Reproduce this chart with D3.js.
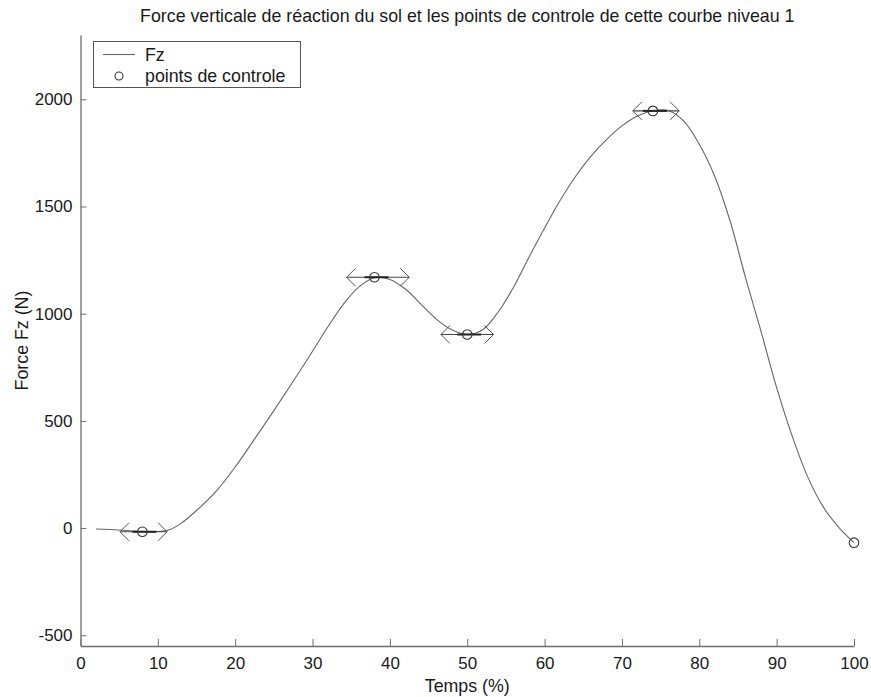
<!DOCTYPE html>
<html>
<head>
<meta charset="utf-8">
<script src="https://cdn.jsdelivr.net/npm/d3@7"></script>
<style>
  html, body { margin: 0; padding: 0; background: #fff; }
  text { font-family: "Liberation Sans", Arial, sans-serif; fill: #1a1a1a; }
</style>
</head>
<body>
<svg id="chart" width="871" height="697"></svg>
<script>
// ---- data ----
const titleText = "Force verticale de réaction du sol et les points de controle de cette courbe niveau 1";
const xLabel = "Temps (%)";
const yLabel = "Force Fz (N)";
const legendLabels = ["Fz", "points de controle"];

const curveX = [2, 5, 8, 10, 11.5, 13, 15, 17.5, 20, 22.5, 25, 27.5, 30, 32, 34, 36, 38, 40, 42, 44, 46, 48, 50, 52, 54, 56, 58, 60, 62, 64, 66, 68, 70, 72, 74, 76, 78, 80, 82, 84, 86, 88, 90, 92, 94, 96, 98, 100];
const curveY = [-4, -9, -16, -16, -8, 22, 82, 170, 285, 415, 548, 685, 825, 940, 1045, 1125, 1168, 1160, 1115, 1045, 975, 925, 903, 925, 1008, 1125, 1265, 1400, 1528, 1640, 1735, 1812, 1876, 1922, 1947, 1948, 1898, 1790, 1640, 1430, 1165, 915, 655, 430, 240, 100, 5, -68];

const ctrlX = [8, 38, 50, 74, 100];
const ctrlY = [-17, 1170, 903, 1946, -68];
// tangent handle lengths (x units) left / right of each control point
const handleLeft = [2.9, 3.6, 3.4, 2.6, 0];
const handleRight = [3.2, 4.5, 3.4, 3.4, 0];

const xTicks = [0, 10, 20, 30, 40, 50, 60, 70, 80, 90, 100];
const yTicks = [-500, 0, 500, 1000, 1500, 2000];

// ---- layout ----
const svg = d3.select("#chart");
const mL = 80.5, mR = 854, mT = 35, mB = 646;
const x = d3.scaleLinear().domain([0, 100]).range([mL, mR]);
const y = d3.scaleLinear().domain([-550, 2300]).range([mB, mT]);
const axisColor = "#6e6e6e";

// axes
const xAxis = svg.append("g").attr("transform", `translate(0,${mB})`)
  .call(d3.axisBottom(x).tickValues(xTicks).tickFormat(d => String(d))
    .tickSizeInner(-7).tickSizeOuter(0).tickPadding(11));
const yAxis = svg.append("g").attr("transform", `translate(${mL},0)`)
  .call(d3.axisLeft(y).tickValues(yTicks).tickFormat(d => String(d))
    .tickSizeInner(-6).tickSizeOuter(0).tickPadding(8));
[xAxis, yAxis].forEach(g => {
  g.select(".domain").attr("stroke", axisColor).attr("stroke-width", 1.3);
  g.selectAll(".tick line").attr("stroke", axisColor).attr("stroke-width", 1);
  g.selectAll(".tick text").attr("font-size", 17).attr("fill", "#1a1a1a")
    .attr("font-family", '"Liberation Sans", Arial, sans-serif');
});

// title & labels
svg.append("text").attr("x", (mL + mR) / 2).attr("y", 22)
  .attr("text-anchor", "middle").attr("font-size", 17.8).text(titleText);
svg.append("text").attr("x", (mL + mR) / 2).attr("y", 692)
  .attr("text-anchor", "middle").attr("font-size", 17.8).text(xLabel);
svg.append("text").attr("transform", `translate(28,${(mT + mB) / 2}) rotate(-90)`)
  .attr("text-anchor", "middle").attr("font-size", 17.8).text(yLabel);

// curve
const pts = curveX.map((d, i) => [d, curveY[i]]);
const line = d3.line().x(d => x(d[0])).y(d => y(d[1])).curve(d3.curveCatmullRom.alpha(0.5));
svg.append("path").datum(pts).attr("d", line)
  .attr("fill", "none").attr("stroke", "#666").attr("stroke-width", 1.1);

// tangent arrows
const ctrl = ctrlX.map((d, i) => ({ x: d, y: ctrlY[i], l: handleLeft[i], r: handleRight[i] }));
const arrowG = svg.append("g").attr("stroke", "#333").attr("fill", "none");
ctrl.filter(d => d.l > 0 || d.r > 0).forEach(d => {
  const cy = y(d.y), xl = x(d.x - d.l), xr = x(d.x + d.r);
  arrowG.append("line").attr("x1", xl).attr("x2", xr).attr("y1", cy).attr("y2", cy)
    .attr("stroke-width", 1.1).attr("stroke", "#444");
  arrowG.append("line").attr("x1", x(d.x) - 10).attr("x2", x(d.x) + 14).attr("y1", cy).attr("y2", cy)
    .attr("stroke-width", 2).attr("stroke", "#222");
  const a = 9;
  arrowG.append("path").attr("d", `M${xl + a},${cy - a}L${xl},${cy}L${xl + a},${cy + a}`)
    .attr("stroke-width", 1).attr("stroke", "#555");
  arrowG.append("path").attr("d", `M${xr - a},${cy - a}L${xr},${cy}L${xr - a},${cy + a}`)
    .attr("stroke-width", 1).attr("stroke", "#555");
});

// control point markers
svg.append("g").selectAll("circle").data(ctrl).join("circle")
  .attr("cx", d => x(d.x)).attr("cy", d => y(d.y)).attr("r", 4.8)
  .attr("fill", "none").attr("stroke", "#333").attr("stroke-width", 1.1);

// legend
const lg = svg.append("g");
lg.append("rect").attr("x", 93.5).attr("y", 41.5).attr("width", 207).attr("height", 46)
  .attr("fill", "#fff").attr("stroke", "#555").attr("stroke-width", 1);
lg.append("line").attr("x1", 103).attr("x2", 135).attr("y1", 54.5).attr("y2", 54.5)
  .attr("stroke", "#666").attr("stroke-width", 1.1);
lg.append("text").attr("x", 145).attr("y", 60.5).attr("font-size", 17.8).text(legendLabels[0]);
lg.append("circle").attr("cx", 119).attr("cy", 76).attr("r", 4).attr("fill", "none")
  .attr("stroke", "#333").attr("stroke-width", 1.1);
lg.append("text").attr("x", 145).attr("y", 82).attr("font-size", 17.8).text(legendLabels[1]);
</script>
</body>
</html>
